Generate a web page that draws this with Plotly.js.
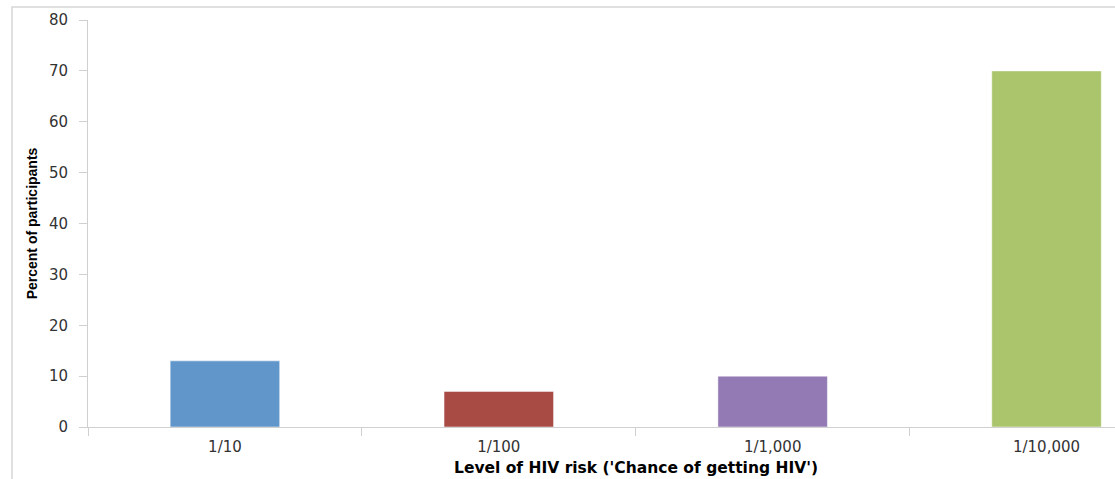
<!DOCTYPE html>
<html>
<head>
<meta charset="utf-8">
<script src="https://cdn.plot.ly/plotly-3.0.1.min.js"></script>
<style>html,body{margin:0;padding:0;background:#fff;}#chart{width:1115px;height:479px;}</style>
</head>
<body>
<div id="chart"></div>
<script>
var categories = ['1/10', '1/100', '1/1,000', '1/10,000'];
var percents = [13, 7, 10, 70];
var barColors = ['#6096c9', '#a84b45', '#937ab4', '#abc56d'];
var yTicks = [0, 10, 20, 30, 40, 50, 60, 70, 80];

var trace = {
  type: 'bar',
  x: categories,
  y: percents,
  width: 0.4,
  marker: {color: barColors, line: {color: 'rgba(255,255,255,0.5)', width: 1}},
  hoverinfo: 'x+y'
};

var layout = {
  width: 1115, height: 479,
  margin: {l: 88, r: 0, t: 20, b: 52},
  paper_bgcolor: '#fff', plot_bgcolor: '#fff',
  showlegend: false,
  bargap: 0.6,
  xaxis: {
    type: 'category',
    range: [-0.5, 3.25],
    showline: true, linecolor: '#d0d0d0', linewidth: 1,
    ticks: 'outside', tickson: 'boundaries', ticklen: 8, tickcolor: '#d0d0d0',
    showgrid: false, zeroline: false,
    ticklabelstandoff: 6,
    tickfont: {family: 'DejaVu Sans, Verdana, sans-serif', size: 15, color: '#333'}
  },
  yaxis: {
    range: [0, 80],
    tickvals: yTicks,
    showline: true, linecolor: '#d0d0d0', linewidth: 1,
    ticks: 'outside', ticklen: 8, tickcolor: '#d0d0d0',
    showgrid: false, zeroline: false,
    ticklabelstandoff: 8,
    tickfont: {family: 'DejaVu Sans, Verdana, sans-serif', size: 15, color: '#333'},
    title: {text: 'Percent of participants', standoff: 8,
      font: {family: 'Liberation Sans Narrow, Arial Narrow, Liberation Sans, sans-serif', size: 14, color: '#000', weight: 'bold'}}
  },
  annotations: [{
    text: "<b>Level of HIV risk ('Chance of getting HIV')</b>",
    xref: 'x', yref: 'paper', x: 1.5, y: -0.1265, yanchor: 'bottom', showarrow: false,
    borderpad: 0,
    font: {family: 'DejaVu Sans, Verdana, sans-serif', size: 15.5, color: '#000'}
  }],
  shapes: [{
    type: 'rect', xref: 'paper', yref: 'paper',
    x0: -0.074, x1: 1.3, y0: -0.5, y1: 1.032,
    line: {color: '#d6d6d6', width: 1.5}, layer: 'below'
  }]
};

Plotly.newPlot('chart', [trace], layout, {displayModeBar: false, staticPlot: true});
</script>
</body>
</html>
